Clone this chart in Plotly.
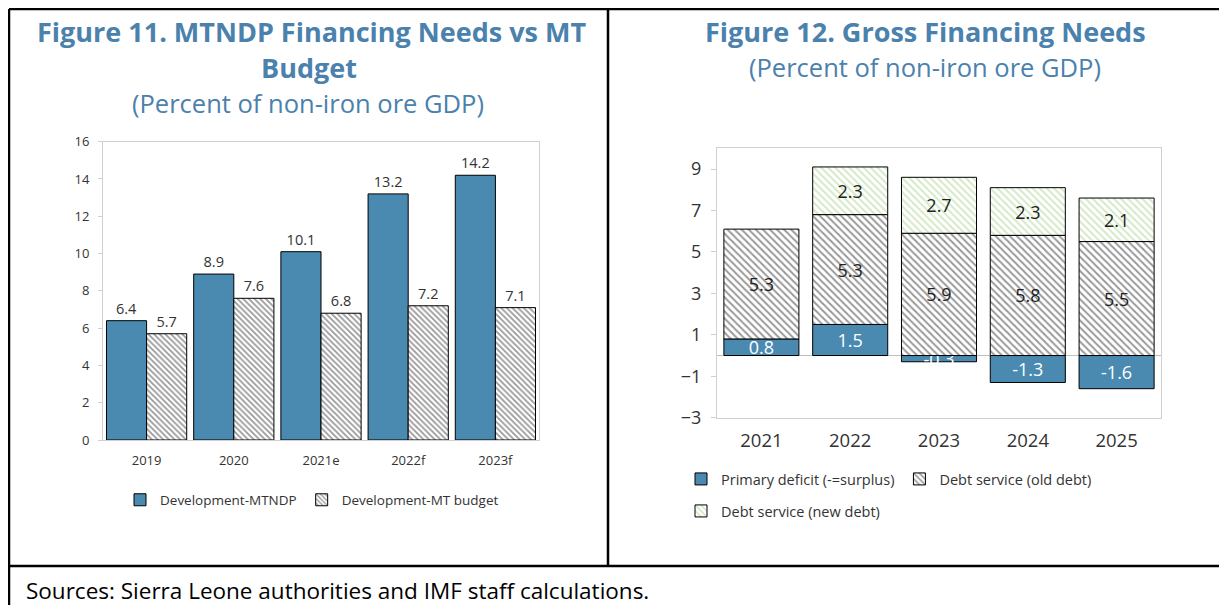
import plotly.graph_objects as go

# ---------------- data ----------------
years_l = ["2019", "2020", "2021e", "2022f", "2023f"]
mtndp = [6.4, 8.9, 10.1, 13.2, 14.2]
mt_budget = [5.7, 7.6, 6.8, 7.2, 7.1]

years_r = ["2021", "2022", "2023", "2024", "2025"]
primary_deficit = [0.8, 1.5, -0.3, -1.3, -1.6]
old_debt = [5.3, 5.3, 5.9, 5.8, 5.5]
new_debt = [None, 2.3, 2.7, 2.3, 2.1]

OFF = 8  # page body margin
W, H = 1227 - OFF, 605 - OFF
BLUE = "#4a8ab0"
TITLE = "#4a81ad"
FONT = "Open Sans, Noto Sans, sans-serif"


def px(x):
    return (x - OFF) / W


def py(y):
    return 1 - (y - OFF) / H


fig = go.Figure()

# ---------------- left chart (two overlaid category axes -> side by side) ----------------
fig.add_trace(go.Bar(
    x=years_l, y=mtndp, name="Development-MTNDP",
    marker=dict(color=BLUE, line=dict(color="black", width=1)),
    width=0.46, offset=-0.46,
    text=[f"{v:.1f}" for v in mtndp], textposition="outside",
    textfont=dict(size=14.5, color="#333333", family=FONT),
    cliponaxis=False, xaxis="x", yaxis="y", legend="legend",
))
fig.add_trace(go.Bar(
    x=years_l, y=mt_budget, name="Development-MT budget",
    marker=dict(color="white", line=dict(color="black", width=1),
                pattern=dict(shape="\\", fgcolor="#333333", bgcolor="white",
                             size=4, solidity=0.45)),
    width=0.46, offset=0,
    text=[f"{v:.1f}" for v in mt_budget], textposition="outside",
    textfont=dict(size=14.5, color="#333333", family=FONT),
    cliponaxis=False, xaxis="x3", yaxis="y", legend="legend",
))

# ---------------- right chart (stacked) ----------------
fig.add_trace(go.Bar(
    x=years_r, y=primary_deficit, name="Primary deficit (-=surplus)",
    marker=dict(color=BLUE, line=dict(color="black", width=1)),
    width=0.845,
    text=[f"{v:.1f}" for v in primary_deficit], textposition="inside",
    insidetextanchor="middle", constraintext="none",
    textfont=dict(size=18, color="white", family=FONT),
    xaxis="x2", yaxis="y2", legend="legend2",
))
fig.add_trace(go.Bar(
    x=years_r, y=old_debt, name="Debt service (old debt)",
    marker=dict(color="white", line=dict(color="black", width=1),
                pattern=dict(shape="\\", fgcolor="#333333", bgcolor="white",
                             size=5, solidity=0.4)),
    width=0.845,
    text=[f"{v:.1f}" for v in old_debt], textposition="inside",
    insidetextanchor="middle",
    textfont=dict(size=18, color="#222222", family=FONT),
    xaxis="x2", yaxis="y2", legend="legend2",
))
fig.add_trace(go.Bar(
    x=years_r, y=new_debt, name="Debt service (new debt)",
    marker=dict(color="white", line=dict(color="black", width=1),
                pattern=dict(shape="\\", fgcolor="#a9d18e", bgcolor="white",
                             size=5, solidity=0.4)),
    width=0.845,
    text=["" if v is None else f"{v:.1f}" for v in new_debt],
    textposition="inside", insidetextanchor="middle",
    textfont=dict(size=18, color="#222222", family=FONT),
    xaxis="x2", yaxis="y2", legend="legend3",
))

frame = "#d0d0d0"

fig.update_layout(
    width=W, height=H,
    margin=dict(l=0, r=0, t=0, b=0, pad=0, autoexpand=False),
    paper_bgcolor="white", plot_bgcolor="white",
    font=dict(family=FONT, color="#333333"),
    barmode="relative",
    xaxis=dict(domain=[px(103), px(539)], showline=True, mirror=True,
               linecolor=frame, ticks="", tickfont=dict(size=13),
               ticklabelstandoff=8, automargin=False),
    xaxis3=dict(domain=[px(103), px(539)], overlaying="x", matches="x",
                visible=False, anchor="y"),
    yaxis=dict(domain=[py(440), py(141.7)], range=[0, 16], dtick=2,
               showline=True, mirror=True, linecolor=frame, showgrid=False,
               zeroline=False, ticks="outside", ticklen=4, tickcolor=frame,
               tickfont=dict(size=13), ticklabelstandoff=6, automargin=False),
    xaxis2=dict(domain=[px(717), px(1161)], anchor="y2", showline=True,
                mirror=True, linecolor=frame, ticks="",
                tickfont=dict(size=18.5), ticklabelstandoff=6, automargin=False),
    yaxis2=dict(domain=[py(417.7), py(148.3)], anchor="x2", range=[-3, 10],
                tickvals=[-3, -1, 1, 3, 5, 7, 9], showline=True, mirror=True,
                linecolor=frame, showgrid=False, zeroline=True,
                zerolinecolor="#bfbfbf", zerolinewidth=1, ticks="outside",
                ticklen=5, tickcolor=frame, tickfont=dict(size=18),
                ticklabelstandoff=6, automargin=False),
    legend=dict(orientation="h", x=px(120), xanchor="left", y=py(500),
                yanchor="middle", font=dict(size=13.5), bgcolor="rgba(0,0,0,0)",
                itemwidth=30),
    legend2=dict(orientation="h", x=px(681), xanchor="left", y=py(479),
                 yanchor="middle", font=dict(size=14.5), bgcolor="rgba(0,0,0,0)",
                 itemwidth=30),
    legend3=dict(orientation="h", x=px(681), xanchor="left", y=py(511),
                 yanchor="middle", font=dict(size=14.5), bgcolor="rgba(0,0,0,0)",
                 itemwidth=30),
)

# ---------------- titles and footer ----------------
ann = [
    dict(text="<b>Figure 11. MTNDP Financing Needs vs MT</b>", x=px(311), y=py(31),
         font=dict(size=27, color=TITLE)),
    dict(text="<b>Budget</b>", x=px(309), y=py(68), font=dict(size=27, color=TITLE)),
    dict(text="(Percent of non-iron ore GDP)", x=px(308), y=py(103),
         font=dict(size=25.5, color=TITLE)),
    dict(text="<b>Figure 12. Gross Financing Needs</b>", x=px(925), y=py(31),
         font=dict(size=27, color=TITLE)),
    dict(text="(Percent of non-iron ore GDP)", x=px(925), y=py(67),
         font=dict(size=25.5, color=TITLE)),
]
for a in ann:
    fig.add_annotation(xref="paper", yref="paper", showarrow=False,
                       xanchor="center", yanchor="middle", **a)
fig.add_annotation(text="Sources: Sierra Leone authorities and IMF staff calculations.",
                   xref="paper", yref="paper", x=px(24), y=py(590),
                   xanchor="left", yanchor="middle", showarrow=False,
                   font=dict(size=22.5, color="black"))

# ---------------- panel borders ----------------
lines = [
    (px(9), py(9), 1, py(9)),
    (px(9), py(9), px(9), 0),
    (px(608), py(9), px(608), py(566)),
    (px(9), py(566), 1, py(566)),
]
for x0, y0, x1, y1 in lines:
    fig.add_shape(type="line", xref="paper", yref="paper", x0=x0, y0=y0,
                  x1=x1, y1=y1, line=dict(color="black", width=2.5))

fig.write_html("out.html")
